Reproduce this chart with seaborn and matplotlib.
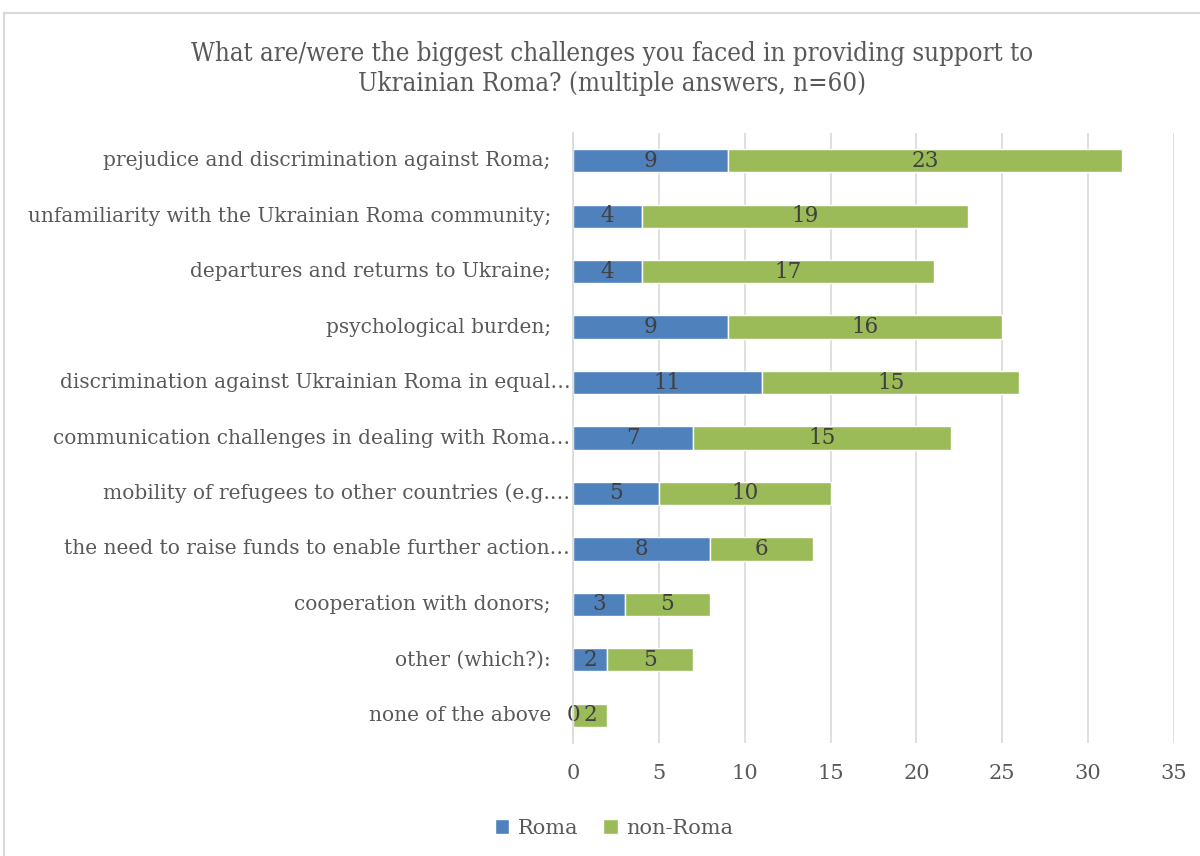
import matplotlib
matplotlib.use("Agg")
import matplotlib.pyplot as plt
from matplotlib.patches import Rectangle, Patch
from matplotlib import font_manager
import seaborn as sns
import pandas as pd
import numpy as np

categories = [
    "prejudice and discrimination against Roma;",
    "unfamiliarity with the Ukrainian Roma community;",
    "departures and returns to Ukraine;",
    "psychological burden;",
    "discrimination against Ukrainian Roma in equal\u2026",
    "communication challenges in dealing with Roma\u2026",
    "mobility of refugees to other countries (e.g.\u2026",
    "the need to raise funds to enable further action\u2026",
    "cooperation with donors;",
    "other (which?):",
    "none of the above",
]
roma = [9, 4, 4, 9, 11, 7, 5, 8, 3, 2, 0]
non_roma = [23, 19, 17, 16, 15, 15, 10, 6, 5, 5, 2]
x_ticks = [0, 5, 10, 15, 20, 25, 30, 35]
title = "What are/were the biggest challenges you faced in providing support to\nUkrainian Roma? (multiple answers, n=60)"

BLUE = "#4F81BD"
GREEN = "#9BBB59"
TEXT = "#595959"
LABEL = "#404040"
GRID = "#D9D9D9"

sns.set_theme(style="white")
plt.rcParams["font.family"] = ["DejaVu Serif"]

df = pd.DataFrame({"category": categories, "Roma": roma, "non-Roma": non_roma})

fig = plt.figure(figsize=(12, 8.56), dpi=100)
ax = fig.add_axes([573 / 1200, 1 - 743 / 856, 601 / 1200, 610 / 856])

sns.barplot(data=df, y="category", x="Roma", color=BLUE, orient="h",
            width=0.42, ax=ax, saturation=1, zorder=3)
ypos = np.arange(len(categories))
ax.barh(ypos, df["non-Roma"], left=df["Roma"], height=0.42, color=GREEN, zorder=3)

# segment value labels
for i, (r, n) in enumerate(zip(roma, non_roma)):
    ax.text(r / 2, i, str(r), ha="center", va="center", fontsize=15.5, color=LABEL, zorder=4)
    ax.text(r + n / 2, i, str(n), ha="center", va="center", fontsize=15.5, color=LABEL, zorder=4)

ax.set_xlim(0, 35)
ax.set_ylim(len(categories) - 0.5, -0.5)
ax.set_xticks(x_ticks)
ax.set_xticklabels([str(t) for t in x_ticks])
ax.set_xlabel("")
ax.set_ylabel("")
ax.grid(axis="x", color=GRID, linewidth=1.2, zorder=0)
ax.grid(axis="y", visible=False)
for s in ["top", "right", "bottom"]:
    ax.spines[s].set_visible(False)
ax.spines["left"].set_color(GRID)
ax.spines["left"].set_linewidth(1.2)
ax.spines["left"].set_zorder(5)
ax.tick_params(axis="both", length=0, labelsize=15, labelcolor=TEXT)
ax.tick_params(axis="x", pad=15)

# category labels: truncated ones run up to the axis, full ones sit further left
ax.set_yticklabels([])
for i, cat in enumerate(categories):
    gap = -2 if cat.endswith("\u2026") else -16
    ax.annotate(cat, xy=(0, i), xycoords=("axes fraction", "data"),
                xytext=(gap, 0), textcoords="offset points",
                ha="right", va="center", fontsize=14.5, color=TEXT)

title_font = font_manager.FontProperties(family="DejaVu Serif", stretch="condensed", size=18.5)
fig.text(612 / 1200, 1 - 68 / 856, title, ha="center", va="center",
         fontproperties=title_font, color=TEXT, linespacing=1.25)

handles = [Patch(facecolor=BLUE, label="Roma"), Patch(facecolor=GREEN, label="non-Roma")]
fig.legend(handles=handles, loc="center", bbox_to_anchor=(614 / 1200, 1 - 828 / 856),
           ncol=2, frameon=False, fontsize=15, labelcolor=TEXT,
           handlelength=0.7, handleheight=0.7, handletextpad=0.4, columnspacing=1.2)

fig.add_artist(Rectangle((4 / 1200, -0.05), 1.1, 1 - 13 / 856 + 0.05,
                         transform=fig.transFigure, fill=False, edgecolor=GRID, linewidth=1.5))

fig.savefig("out.png", dpi=100)
